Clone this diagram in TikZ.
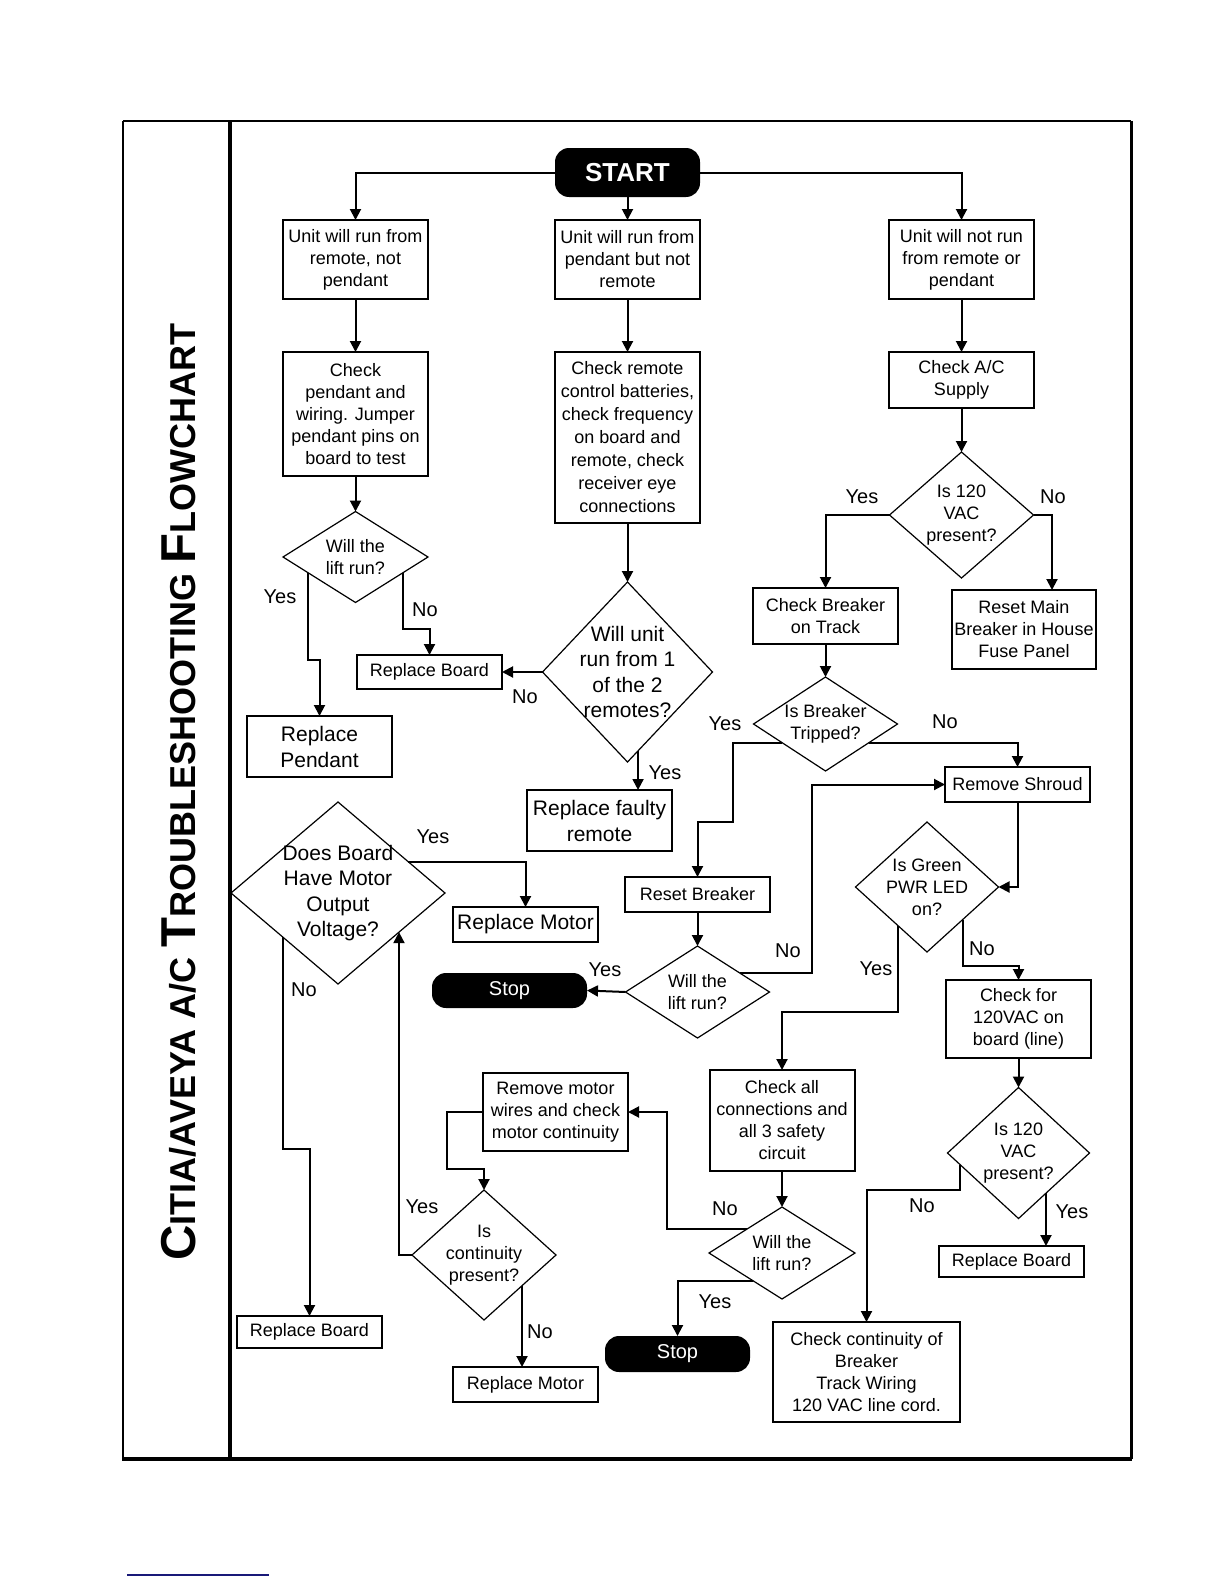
\documentclass[tikz,border=0pt]{standalone}
\usepackage{fontspec}
\setmainfont{Liberation Sans}
\usetikzlibrary{shapes.geometric,arrows.meta,calc}
\definecolor{navyline}{RGB}{25,25,120}
\newcommand{\tbig}{\fontsize{24.5}{24.5}\selectfont}
\newcommand{\tsmall}{\fontsize{18}{18}\selectfont}
\begin{document}
\begin{tikzpicture}[x=0.5pt,y=-0.5pt,
  every node/.style={inner sep=0pt, outer sep=0pt},
  box/.style={draw, line width=1pt, align=center, font=\fontsize{9}{11}\selectfont},
  bigbox/.style={box, font=\fontsize{10.5}{13}\selectfont},
  dia/.style={draw, diamond, line width=0.6pt},
  dtext/.style={align=center, font=\fontsize{9}{11}\selectfont},
  dbig/.style={align=center, font=\fontsize{10.5}{12.6}\selectfont},
  term/.style={fill=black, text=white, rounded corners=7pt, align=center},
  sz/.style 2 args={minimum width=#1*0.5pt, minimum height=#2*0.5pt},
  lbl/.style={font=\fontsize{10}{12}\selectfont},
  arr/.style={line width=1pt, -{Triangle[length=5.5pt,width=5.5pt]}},
]
\useasboundingbox (0,0) rectangle (1224,1584);

% frame
\draw[line width=1pt] (123,121) -- (1131,121);
\draw[line width=0.8pt] (123,121) -- (123,1459);
\draw[line width=1.5pt] (1131,121) -- (1131,1459);
\draw[line width=1.6pt] (230,121) -- (230,1459);
\draw[line width=2.2pt] (122,1459) -- (1132,1459);
\draw[line width=1pt, navyline] (127,1575) -- (269,1575);

% title
\node[rotate=90, font=\bfseries] (title) at (179,792)
  {\tbig C\tsmall ITIA/AVEYA A/C \tbig T\tsmall ROUBLESHOOTING \tbig F\tsmall LOWCHART};

% nodes
\node[term, sz={145}{49}, font=\bfseries\fontsize{13}{13}\selectfont] (start) at (627.5,172.5) {START};
\node[box, sz={145}{79}] (b1) at (355.5,259.5) {Unit will run from\\remote, not\\pendant};
\node[box, sz={145}{79}] (b2) at (627.5,259.5) {Unit will run from\\pendant but not\\remote};
\node[box, sz={145}{79}] (b3) at (961.5,259.5) {Unit will not run\\from remote or\\pendant};
\node[box, sz={145}{124}] (b4) at (355.5,414) {Check\\pendant  and\\wiring. Jumper\\pendant pins on\\board to test};
\node[box, sz={145}{171}, font=\fontsize{9}{11.5}\selectfont] (b5) at (627.5,437.5) {Check remote\\control batteries,\\check frequency\\on board and\\remote, check\\receiver eye\\connections};
\node[box, sz={145}{56}] (b6) at (961.5,380) {Check A/C\\Supply};

\node[dia, sz={145}{91}, label={[dtext]center:{Will the\\lift run?}}] (d1) at (355.5,557) {};
\node[box, sz={145}{34}] (rb1) at (429.5,672) {Replace Board};
\node[bigbox, sz={145}{61}] (rp) at (319.5,746.5) {Replace\\Pendant};
\node[dia, sz={170}{180}, label={[dbig]center:{Will unit\\run from 1\\of the 2\\remotes?}}] (d2) at (627.5,672) {};
\node[bigbox, sz={145}{61}] (rfr) at (599.5,820.5) {Replace faulty\\remote};

\node[dia, sz={144}{126}, label={[dtext]center:{Is 120\\VAC\\present?}}] (d3) at (961.5,515) {};
\node[box, sz={145}{56}] (cbt) at (825.5,616) {Check Breaker\\on Track};
\node[box, sz={144}{79}] (rmb) at (1024,629.5) {Reset Main\\Breaker in House\\Fuse Panel};
\node[dia, sz={144}{94}, label={[dtext]center:{Is Breaker\\Tripped?}}] (d4) at (825.5,724) {};
\node[box, sz={145}{35}] (rs) at (1017.5,784.5) {Remove Shroud};
\node[dia, sz={143}{130}, label={[dtext]center:{Is Green\\PWR LED\\on?}}] (d5) at (927,887) {};
\node[box, sz={145}{35}] (rb) at (697.5,894.5) {Reset Breaker};
\node[dia, sz={144}{92}, label={[dtext]center:{Will the\\lift run?}}] (d6) at (697.5,992) {};
\node[term, sz={155}{35}, font=\fontsize{10}{12}\selectfont] (stop1) at (509.5,990.5) {Stop};

\node[dia, sz={214}{182}, label={[dbig]center:{Does Board\\Have Motor\\Output\\Voltage?}}] (d7) at (338,893) {};
\node[bigbox, sz={145}{35}] (rm1) at (525.5,924.5) {Replace Motor};

\node[box, sz={145}{78}] (c120) at (1018.5,1019) {Check for\\120VAC on\\board (line)};
\node[box, sz={145}{101}] (cac) at (782,1120.5) {Check all\\connections and\\all 3 safety\\circuit};
\node[box, sz={145}{78}] (rmw) at (555.5,1112) {Remove motor\\wires and check\\motor continuity};
\node[dia, sz={144}{130}, label={[dtext]center:{Is\\continuity\\present?}}] (d8) at (484,1255) {};
\node[dia, sz={146}{92}, label={[dtext]center:{Will the\\lift run?}}] (d9) at (782,1253) {};
\node[dia, sz={142}{131}, label={[dtext]center:{Is 120\\VAC\\present?}}] (d10) at (1018.5,1153) {};
\node[term, sz={145}{36}, font=\fontsize{10}{12}\selectfont] (stop2) at (677.5,1354) {Stop};
\node[box, sz={145}{32}] (rb2) at (309.5,1332) {Replace Board};
\node[box, sz={145}{35}] (rm2) at (525.5,1384.5) {Replace Motor};
\node[box, sz={145}{31}] (rb3) at (1011.5,1261.5) {Replace Board};
\node[box, sz={187}{100}] (ccb) at (866.5,1372) {Check continuity of\\Breaker\\Track Wiring\\120 VAC  line cord.};

% labels
\node[lbl] (y1) at (280,597) {Yes};
\node[lbl] (n1) at (425,610) {No};
\node[lbl] (n2) at (525,697) {No};
\node[lbl] (y2) at (665,773) {Yes};
\node[lbl] (y3) at (862,497) {Yes};
\node[lbl] (n3) at (1053,497) {No};
\node[lbl] (y4) at (725,724) {Yes};
\node[lbl] (n4) at (945,722) {No};
\node[lbl] (n6) at (788,951) {No};
\node[lbl] (y5) at (876,969) {Yes};
\node[lbl] (n5) at (982,949) {No};
\node[lbl] (y6) at (605,970) {Yes};
\node[lbl] (y7) at (433,837) {Yes};
\node[lbl] (n7) at (304,990) {No};
\node[lbl] (y8) at (422,1207) {Yes};
\node[lbl] (n8) at (540,1332) {No};
\node[lbl] (n9) at (725,1209) {No};
\node[lbl] (y9) at (715,1302) {Yes};
\node[lbl] (n10) at (922,1206) {No};
\node[lbl] (y10) at (1072,1212) {Yes};

% connectors
\draw[arr] (start.west) -| (b1.north);
\draw[arr] (start.east) -| (b3.north);
\draw[arr] (start.south) -- (b2.north);
\draw[arr] (b1.south) -- (b4.north);
\draw[arr] (b2.south) -- (b5.north);
\draw[arr] (b3.south) -- (b6.north);
\draw[arr] (b4.south) -- (d1.north);
\draw[arr] (b5.south) -- (d2.north);
\draw[arr] (b6.south) -- (d3.north);

\draw[arr] ($(d1.west)!0.35!(d1.south)$) |- ($(rp.north)+(0,-56)$) -- (rp.north);
\draw[arr] ($(d1.east)!0.345!(d1.south)$) |- ($(rb1.north)+(0,-26)$) -- (rb1.north);
\draw[arr] (d2.west) -- (rb1.east);
\coordinate (d2y) at ($(d2.south)!0.124!(d2.east)$);
\draw[arr] (d2y) -- (d2y |- rfr.north);

\draw[arr] (d3.west) -| (cbt.north);
\draw[arr] (d3.east) -| ($(rmb.north)+(28,0)$);
\draw[arr] (cbt.south) -- (d4.north);
\draw[arr] ($(d4.west)!0.4!(d4.south)$) -| ($(rb.north)+(35.5,-55)$) -| (rb.north);
\draw[arr] ($(d4.east)!0.4!(d4.south)$) -| (rs.north);
\draw[arr] (rs.south) |- (d5.east);
\draw[arr] ($(d5.south)!0.405!(d5.west)$) |- ($(cac.north)+(0,-58)$) -- (cac.north);
\draw[arr] ($(d5.south)!0.5!(d5.east)$) |- ($(c120.north)+(0,-14)$) -- (c120.north);
\draw[arr] (rb.south) -- (d6.north);
\draw[arr] (d6.west) -- (stop1.east);
\draw[arr] ($(d6.east)!0.41!(d6.north)$) -| ($(rs.west)+(-133,0)$) -- (rs.west);

\draw[arr] ($(d7.north)!0.654!(d7.east)$) -| (rm1.north);
\draw[arr] ($(d7.west)!0.486!(d7.south)$) |- ($(rb2.north)+(0,-167)$) -- (rb2.north);
\draw[arr] (d8.west) -| ($(d7.east)!0.43!(d7.south)$);
\coordinate (d8n) at ($(d8.south)!0.528!(d8.east)$);
\draw[arr] (d8n) -- (d8n |- rm2.north);
\draw[arr] (rmw.west) -| ($(d8.north)+(-37,-21)$) -| (d8.north);

\draw[arr] (c120.south) -- (d10.north);
\draw[arr] ($(d10.west)!0.176!(d10.south)$) |- ($(ccb.north)+(0,-132)$) -- (ccb.north);
\coordinate (d10y) at ($(d10.south)!0.387!(d10.east)$);
\draw[arr] (d10y) -- (d10y |- rb3.north);
\draw[arr] (cac.south) -- (d9.north);
\draw[arr] ($(d9.west)!0.52!(d9.north)$) -| ($(rmw.east)+(39,0)$) -- (rmw.east);
\draw[arr] ($(d9.west)!0.6!(d9.south)$) -| (stop2.north);
\end{tikzpicture}
\end{document}
